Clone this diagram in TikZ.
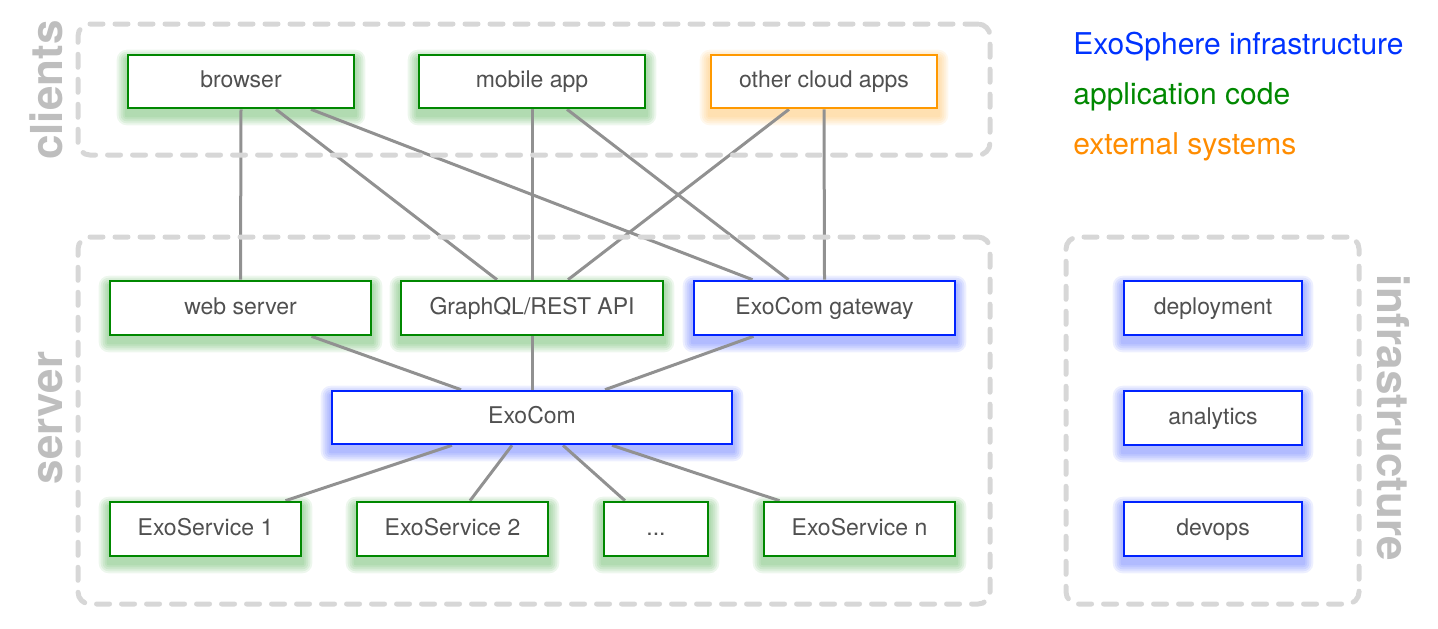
\documentclass[tikz,border=0pt]{standalone}
\usepackage{fontspec}
\setmainfont{TeX Gyre Heros}
\usetikzlibrary{fit,calc,backgrounds}
\definecolor{cgreen}{RGB}{0,136,0}
\definecolor{cblue}{RGB}{0,34,255}
\definecolor{corange}{RGB}{255,153,0}
\definecolor{cline}{RGB}{145,145,145}
\definecolor{cdash}{RGB}{215,215,215}
\definecolor{clabel}{RGB}{190,190,190}
\definecolor{ctext}{RGB}{80,80,80}
\definecolor{lblue}{RGB}{0,51,255}
\definecolor{lgreen}{RGB}{0,136,0}
\definecolor{lorange}{RGB}{255,140,0}
\tikzset{
  nbox/.style={draw, fill=white, line width=1.3pt, inner sep=0pt,
    font=\fontsize{11.5}{13}\selectfont, text=ctext, text height=8.3pt, text depth=2.2pt},
  gbox/.style={nbox, draw=cgreen},
  bbox/.style={nbox, draw=cblue},
  obox/.style={nbox, draw=corange},
  grp/.style={draw=cdash, line width=2.5pt, dash pattern=on 6.5pt off 6pt,
    line cap=round, rounded corners=6pt, inner sep=0pt},
  sidelbl/.style={text=clabel, font=\fontsize{22}{24}\selectfont\bfseries, inner sep=0pt, anchor=base},
  legtxt/.style={font=\fontsize{15}{18}\selectfont, anchor=base west, inner sep=0pt},
  conn/.style={draw=cline, line width=1.5pt},
}
% \bx{name}{x1}{y1}{x2}{y2}{style}{text}
\newcommand\bx[7]{%
  \node[#6, minimum width={(#4-#2)*0.5pt}, minimum height={(#5-#3)*0.5pt}]
    (#1) at ({(#2+#4)/2},{(#3+#5)/2}) {#7};%
}
\newcommand\nodeglow[2]{%
  \foreach \r in {2,4,...,10} {
    \pgfmathsetmacro\rr{\r*0.5}
    \fill[#2, opacity=0.07, rounded corners=\rr pt]
      ($(#1.south west)+(-\r,6+\r)$) rectangle ($(#1.north east)+(\r,6-\r)$);
  }%
}
\begin{document}
\begin{tikzpicture}[x=0.5pt,y=-0.5pt]
\useasboundingbox (0,0) rectangle (1438,628);

% groups
\node[grp, fit={(78,24) (990,155)}] (gclients) {};
\node[grp, fit={(78,237) (990,604)}] (gserver) {};
\node[grp, fit={(1066,237) (1359,604)}] (ginfra) {};

% side labels
\node[sidelbl, rotate=90] (lclients) at (62,90) {clients};
\node[sidelbl, rotate=90] (lserver) at (62,418) {server};
\node[sidelbl, rotate=-90] (linfra) at (1377,418) {infrastructure};

% legend
\node[legtxt, text=lblue] (leg1) at (1073,54) {ExoSphere infrastructure};
\node[legtxt, text=lgreen] (leg2) at (1073,104) {application code};
\node[legtxt, text=lorange] (leg3) at (1073,154) {external systems};

% clients
\bx{browser}{128}{55}{354}{108}{gbox}{browser}
\bx{mobile}{419}{55}{645}{108}{gbox}{mobile app}
\bx{cloud}{711}{55}{937}{108}{obox}{other cloud apps}

% server row 1
\bx{web}{110}{281}{371}{335}{gbox}{web server}
\bx{api}{401}{281}{663}{335}{gbox}{GraphQL/REST API}
\bx{gw}{694}{281}{955}{335}{bbox}{ExoCom gateway}

% ExoCom
\bx{exocom}{332}{391}{732}{444}{bbox}{ExoCom}

% services
\bx{s1}{110}{502}{301}{556}{gbox}{ExoService 1}
\bx{s2}{357}{502}{548}{556}{gbox}{ExoService 2}
\bx{dots}{604}{502}{708}{556}{gbox}{...}
\bx{sn}{764}{502}{955}{556}{gbox}{ExoService n}

% infrastructure
\bx{deploy}{1124}{281}{1302}{335}{bbox}{deployment}
\bx{analytics}{1124}{391}{1302}{445}{bbox}{analytics}
\bx{devops}{1124}{502}{1302}{556}{bbox}{devops}

\begin{scope}[on background layer]
  \nodeglow{browser}{cgreen}
  \nodeglow{mobile}{cgreen}
  \nodeglow{cloud}{corange}
  \nodeglow{web}{cgreen}
  \nodeglow{api}{cgreen}
  \nodeglow{gw}{cblue}
  \nodeglow{exocom}{cblue}
  \nodeglow{s1}{cgreen}
  \nodeglow{s2}{cgreen}
  \nodeglow{dots}{cgreen}
  \nodeglow{sn}{cgreen}
  \nodeglow{deploy}{cblue}
  \nodeglow{analytics}{cblue}
  \nodeglow{devops}{cblue}

  \draw[conn] (browser.south) -- (web.north);
  \draw[conn] ($(browser.south)+(35,0)$) -- ($(api.north)+(-35,0)$);
  \draw[conn] ($(browser.south)+(70,0)$) -- ($(gw.north)+(-72,0)$);
  \draw[conn] (mobile.south) -- (api.north);
  \draw[conn] ($(mobile.south)+(35,0)$) -- ($(gw.north)+(-36,0)$);
  \draw[conn] ($(cloud.south)+(-35,0)$) -- ($(api.north)+(36,0)$);
  \draw[conn] (cloud.south) -- (gw.north);
  \draw[conn] ($(web.south)+(71,0)$) -- ($(exocom.north)+(-71,0)$);
  \draw[conn] (api.south) -- (exocom.north);
  \draw[conn] ($(gw.south)+(-71,0)$) -- ($(exocom.north)+(73,0)$);
  \draw[conn] ($(exocom.south)+(-80,0)$) -- ($(s1.north)+(80,0)$);
  \draw[conn] ($(exocom.south)+(-20,0)$) -- ($(s2.north)+(17.5,0)$);
  \draw[conn] ($(exocom.south)+(31,0)$) -- ($(dots.north)+(-31,0)$);
  \draw[conn] ($(exocom.south)+(80,0)$) -- ($(sn.north)+(-80,0)$);
\end{scope}
\end{tikzpicture}
\end{document}
